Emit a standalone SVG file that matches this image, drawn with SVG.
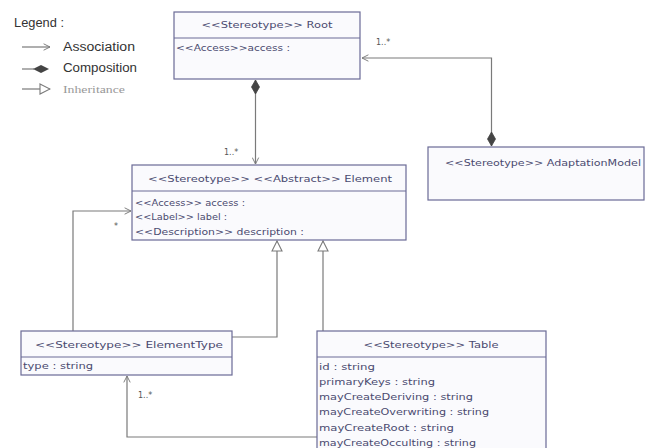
<svg xmlns="http://www.w3.org/2000/svg" width="648" height="448" viewBox="0 0 648 448">
<defs>
<style>
.box{fill:#fafafd;stroke:#6a6a96;stroke-width:1.2}
.div{stroke:#6a6a96;stroke-width:1}
.t{font-family:"DejaVu Sans",sans-serif;font-size:8px;fill:#4a4a70}
.ti{font-family:"DejaVu Sans",sans-serif;font-size:8.5px;fill:#4a4a70}
.lg{font-family:"Liberation Sans",Arial,sans-serif;font-size:12px;fill:#333}
.lgi{font-family:"Liberation Serif",serif;font-size:10px;fill:#999}
.c{fill:none;stroke:#7a7a7a;stroke-width:1.2}
.m{font-family:"DejaVu Sans",sans-serif;font-size:8px;fill:#555}
</style>
<marker id="open" viewBox="0 0 10 10" refX="9" refY="5" markerWidth="8" markerHeight="8" orient="auto" markerUnits="userSpaceOnUse">
<path d="M1,1 L9,5 L1,9" fill="none" stroke="#7a7a7a" stroke-width="1.2"/>
</marker>
<marker id="tri" viewBox="0 0 12 12" refX="11" refY="6" markerWidth="12" markerHeight="12" orient="auto" markerUnits="userSpaceOnUse">
<path d="M1,1 L11,6 L1,11 Z" fill="#fff" stroke="#7a7a7a" stroke-width="1.1"/>
</marker>
<marker id="dia" viewBox="0 0 16 10" refX="1" refY="5" markerWidth="16" markerHeight="10" orient="auto" markerUnits="userSpaceOnUse">
<path d="M1,5 L8,1 L15,5 L8,9 Z" fill="#444" stroke="#444" stroke-width="0.8"/>
</marker>
</defs>
<rect width="648" height="448" fill="#ffffff"/>

<g id="legend">
<text class="lg" x="14" y="27" textLength="50" lengthAdjust="spacingAndGlyphs">Legend :</text>
<line x1="22" y1="47" x2="50" y2="47" class="c" marker-end="url(#open)"/>
<text class="lg" x="63" y="51" textLength="72" lengthAdjust="spacingAndGlyphs">Association</text>
<line x1="22" y1="69" x2="34" y2="69" class="c" stroke-width="2"/>
<path d="M33,69 L41,65 L49,69 L41,73 Z" fill="#444"/>
<text class="lg" x="63" y="72" textLength="74" lengthAdjust="spacingAndGlyphs">Composition</text>
<line x1="22" y1="89" x2="50" y2="89" class="c" marker-end="url(#tri)"/>
<text class="lgi" x="63" y="93" textLength="62" lengthAdjust="spacingAndGlyphs">Inheritance</text>
</g>

<g id="connectors">
<line x1="255.5" y1="80" x2="255.5" y2="164" class="c" marker-start="url(#dia)" marker-end="url(#open)"/>
<polyline points="491.5,146 491.5,58 362,58" class="c" marker-start="url(#dia)" marker-end="url(#open)"/>
<polyline points="73,331 73,211 131,211" class="c" marker-end="url(#open)"/>
<polyline points="232,337 277,337 277,241" class="c" marker-end="url(#tri)"/>
<line x1="323" y1="331" x2="323" y2="241" class="c" marker-end="url(#tri)"/>
<polyline points="317,437 127,437 127,376" class="c" marker-end="url(#open)"/>
<text class="m" x="224" y="155">1..*</text>
<text class="m" x="376" y="45">1..*</text>
<text class="m" x="114" y="229">*</text>
<text class="m" x="138" y="398">1..*</text>
</g>

<g id="root">
<rect class="box" x="174" y="12" width="186" height="67"/>
<line class="div" x1="174" y1="38" x2="360" y2="38"/>
<text class="ti" x="267" y="28" text-anchor="middle" textLength="131" lengthAdjust="spacingAndGlyphs">&lt;&lt;Stereotype&gt;&gt; Root</text>
<text class="t" x="176" y="51" textLength="114" lengthAdjust="spacingAndGlyphs">&lt;&lt;Access&gt;&gt;access :</text>
</g>

<g id="adaptationmodel">
<rect class="box" x="428" y="147" width="216" height="53"/>
<text class="ti" x="543" y="166" text-anchor="middle" textLength="196" lengthAdjust="spacingAndGlyphs">&lt;&lt;Stereotype&gt;&gt; AdaptationModel</text>
</g>

<g id="element">
<rect class="box" x="132" y="165" width="274" height="75"/>
<line class="div" x1="132" y1="191" x2="406" y2="191"/>
<text class="ti" x="270" y="182" text-anchor="middle" textLength="244" lengthAdjust="spacingAndGlyphs">&lt;&lt;Stereotype&gt;&gt;  &lt;&lt;Abstract&gt;&gt; Element</text>
<text class="t" x="135" y="206" textLength="110" lengthAdjust="spacingAndGlyphs">&lt;&lt;Access&gt;&gt; access :</text>
<text class="t" x="135" y="220" textLength="92" lengthAdjust="spacingAndGlyphs">&lt;&lt;Label&gt;&gt; label :</text>
<text class="t" x="135" y="235" textLength="169" lengthAdjust="spacingAndGlyphs">&lt;&lt;Description&gt;&gt; description :</text>
</g>

<g id="elementtype">
<rect class="box" x="21" y="331" width="211" height="44"/>
<line class="div" x1="21" y1="357" x2="232" y2="357"/>
<text class="ti" x="129" y="348" text-anchor="middle" textLength="188" lengthAdjust="spacingAndGlyphs">&lt;&lt;Stereotype&gt;&gt; ElementType</text>
<text class="t" x="23" y="369" textLength="70" lengthAdjust="spacingAndGlyphs">type : string</text>
</g>

<g id="table">
<rect class="box" x="317" y="331" width="229" height="130"/>
<line class="div" x1="317" y1="357" x2="546" y2="357"/>
<text class="ti" x="431" y="348" text-anchor="middle" textLength="135" lengthAdjust="spacingAndGlyphs">&lt;&lt;Stereotype&gt;&gt; Table</text>
<text class="t" x="319" y="370" textLength="56" lengthAdjust="spacingAndGlyphs">id : string</text>
<text class="t" x="319" y="385" textLength="116" lengthAdjust="spacingAndGlyphs">primaryKeys : string</text>
<text class="t" x="319" y="400" textLength="154" lengthAdjust="spacingAndGlyphs">mayCreateDeriving : string</text>
<text class="t" x="319" y="415" textLength="170" lengthAdjust="spacingAndGlyphs">mayCreateOverwriting : string</text>
<text class="t" x="319" y="431" textLength="135" lengthAdjust="spacingAndGlyphs">mayCreateRoot : string</text>
<text class="t" x="319" y="446" textLength="157" lengthAdjust="spacingAndGlyphs">mayCreateOcculting : string</text>
</g>
</svg>
